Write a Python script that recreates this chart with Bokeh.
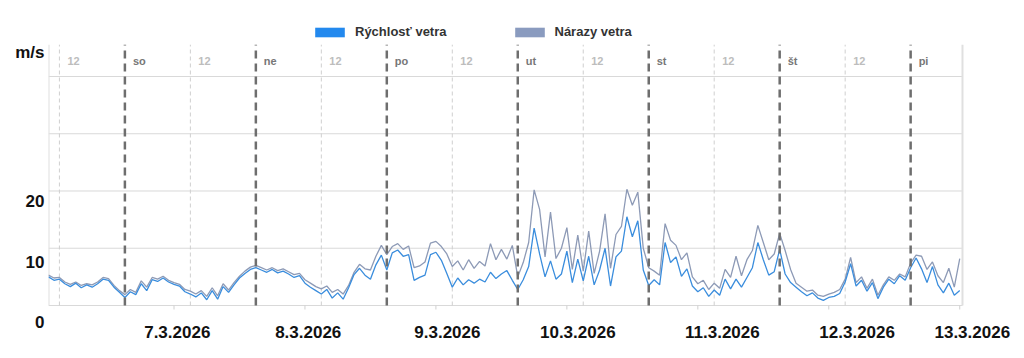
from bokeh.plotting import figure
from bokeh.models import (Range1d, FixedTicker, Legend, LegendItem)
from bokeh.core.properties import value
from bokeh.embed import file_html
from bokeh.resources import INLINE

# ---------------- data ----------------
# hours since 6.3.2026 10:00
hours = list(range(168))
speed = [5.0, 4.4, 4.6, 3.8, 3.3, 3.9, 3.1, 3.6, 3.2, 3.8, 4.6, 4.4, 3.2, 2.3,
         1.4, 2.4, 1.9, 3.8, 2.6, 4.5, 4.2, 4.8, 4.1, 3.7, 3.4, 2.4, 2.0, 1.5,
         2.2, 1.0, 2.6, 1.1, 3.3, 2.3, 3.6, 4.8, 5.6, 6.3, 6.6, 6.2, 5.8, 6.3,
         5.7, 6.0, 5.5, 4.9, 5.2, 3.9, 3.2, 2.6, 2.0, 2.8, 1.3, 2.2, 1.1, 3.1,
         5.4, 6.5, 5.3, 4.6, 7.1, 8.8, 6.2, 9.2, 9.7, 8.6, 8.9, 4.4, 4.9, 5.3,
         8.9, 9.3, 7.9, 5.6, 3.2, 4.8, 3.6, 4.5, 3.9, 4.6, 4.1, 5.8, 4.7, 5.5,
         6.1, 4.4, 2.8, 4.5, 6.8, 13.5, 9.0, 5.0, 7.8, 4.6, 5.5, 9.5, 4.0, 8.1,
         4.3, 8.6, 3.6, 6.2, 10.0, 3.4, 8.5, 9.5, 15.5, 12.0, 14.8, 6.2, 3.5, 4.5,
         3.6, 11.0, 7.5, 8.5, 5.1, 6.4, 3.4, 2.4, 3.1, 1.6, 2.7, 1.8, 4.6, 2.9,
         4.6, 3.2, 4.9, 6.6, 11.0, 8.0, 5.3, 5.9, 9.8, 5.5, 4.0, 3.2, 2.4, 1.7,
         2.2, 1.3, 0.9, 1.4, 1.6, 2.1, 4.1, 7.3, 3.4, 4.4, 2.5, 4.0, 1.2, 3.2,
         4.6, 3.8, 5.2, 4.4, 6.6, 8.3, 6.4, 4.0, 6.8, 3.6, 2.2, 3.9, 1.8, 2.6]
gust = [5.3, 4.8, 4.9, 4.1, 3.7, 4.1, 3.5, 3.8, 3.6, 4.1, 4.9, 4.7, 3.5, 2.6,
        1.9, 2.8, 2.3, 4.3, 3.2, 4.9, 4.6, 5.1, 4.4, 4.0, 3.7, 2.8, 2.5, 2.0,
        2.6, 1.6, 3.1, 1.7, 3.8, 2.7, 4.0, 5.1, 6.0, 6.7, 7.0, 6.6, 6.2, 6.6,
        6.1, 6.4, 5.9, 5.4, 5.6, 4.5, 3.9, 3.3, 2.9, 3.4, 2.3, 2.8, 2.0, 3.5,
        5.8, 7.2, 6.4, 6.2, 8.6, 10.5, 8.9, 10.3, 10.8, 9.8, 10.4, 6.6, 6.9, 7.6,
        10.9, 11.2, 10.3, 9.0, 6.8, 7.8, 6.2, 8.0, 6.5, 7.7, 6.9, 10.8, 8.0, 9.8,
        8.1, 10.5, 5.0, 7.5, 11.0, 20.2, 16.8, 8.5, 16.3, 8.2, 10.0, 13.6, 6.3, 12.3,
        6.0, 13.0, 5.6, 9.5, 16.0, 6.5, 12.4, 13.8, 20.3, 17.5, 19.8, 10.0, 6.6, 6.0,
        5.3, 14.3, 11.4, 10.5, 8.0, 9.2, 5.0, 3.8, 4.4, 2.8, 3.9, 3.0, 6.3, 4.9,
        8.6, 5.2, 8.0, 9.6, 14.0, 11.0, 8.0, 9.0, 12.6, 9.6, 6.3, 3.9, 3.2, 2.5,
        2.7, 1.8, 1.6, 2.0, 2.3, 2.8, 4.6, 8.4, 4.0, 5.0, 3.0, 4.6, 1.8, 3.6,
        5.0, 4.4, 5.5, 5.0, 7.4, 8.8, 8.6, 6.3, 7.6, 5.2, 4.0, 6.5, 3.2, 8.2]

day_names = ["so", "ne", "po", "ut", "st", "št", "pi"]
day_start_hours = [14, 38, 62, 86, 110, 134, 158]
noon_hours = [2, 26, 50, 74, 98, 122, 146]
noon_labels = ["12"] * 7
date_tick_hours = [23, 47, 71, 95, 119, 143, 167]          # small tick marks
date_label_hours = [23.6, 47.6, 73.1, 97.0, 123.5, 148.2, 169.3]  # where labels sit
date_labels = ["7.3.2026", "8.3.2026", "9.3.2026", "10.3.2026",
               "11.3.2026", "12.3.2026", "13.3.2026"]
y_tick_values = [0, 10, 20]
y_tick_labels = ["0", "10", "20"]
y_unit_label = "m/s"
y_grid_values = [0, 10, 20, 30, 40]
series_names = ["Rýchlosť vetra", "Nárazy vetra"]

# ---------------- style ----------------
FONT = "Liberation Sans"
SPEED_LINE = "#3a8ddd"
GUST_LINE = "#8d9ab6"
SPEED_BOX = "#2389ee"
GUST_BOX = "#8a9bbf"
X_DATA_END = 167.5                     # right edge of the chart area
X_END = 170.07                         # frame extends a bit for the last label
Y_START, Y_END = -2.97, 49.78          # data range of the frame
Y_TOP = 45.55                          # top of the chart area (lines end here)
LAB_END = 49.92                        # range used by the offset y labels
UNIT_POS = 44.63
TICK_LEN = 0.7
n_grid = len(y_grid_values)

p = figure(width=1024, height=358, output_backend="svg", toolbar_location=None,
           x_range=Range1d(0, X_END), y_range=Range1d(Y_START, Y_END),
           min_border_left=48, min_border_right=48, min_border_top=20,
           min_border_bottom=36)
p.title.visible = False
p.outline_line_color = None
p.background_fill_color = "white"
p.border_fill_color = "white"
p.extra_y_ranges = {"ylab": Range1d(0, LAB_END)}
p.xgrid.visible = False
p.ygrid.visible = False

# left axis: labels only (sitting slightly below the grid lines as in original)
ya = p.yaxis[0]
ya.y_range_name = "ylab"
ya.ticker = FixedTicker(ticks=y_tick_values + [UNIT_POS])
overrides = {v: t for v, t in zip(y_tick_values, y_tick_labels)}
overrides[UNIT_POS] = y_unit_label
ya.major_label_overrides = overrides
ya.axis_line_color = None
ya.major_tick_line_color = None
ya.minor_tick_line_color = None
ya.major_tick_in = 0
ya.major_tick_out = 0
ya.major_label_standoff = 4
ya.major_label_text_font = FONT
ya.major_label_text_font_style = "bold"
ya.major_label_text_font_size = "17px"
ya.major_label_text_color = "#111111"

# x axis with date labels
xa = p.xaxis[0]
xa.ticker = FixedTicker(ticks=date_label_hours)
xa.major_label_overrides = {h: lab for h, lab in zip(date_label_hours, date_labels)}
xa.axis_line_color = None
xa.major_tick_line_color = None
xa.minor_tick_line_color = None
xa.major_tick_in = 0
xa.major_tick_out = 0
xa.major_label_standoff = 3
xa.major_label_text_font = FONT
xa.major_label_text_font_style = "bold"
xa.major_label_text_font_size = "17px"
xa.major_label_text_color = "#111111"

# horizontal grid lines, left / right edges, small date ticks
p.segment(x0=[0] * n_grid, y0=y_grid_values, x1=[X_DATA_END] * n_grid, y1=y_grid_values,
          line_color="#d9d9d9", line_width=1)
p.segment(x0=[0, X_DATA_END], y0=[0, 0], x1=[0, X_DATA_END], y1=[Y_TOP, Y_TOP],
          line_color="#e0e0e0", line_width=2)
p.segment(x0=date_tick_hours, y0=[0] * 7, x1=date_tick_hours, y1=[-TICK_LEN] * 7,
          line_color="#d0d0d0", line_width=1)

# noon lines
p.segment(x0=noon_hours, y0=[0] * 7, x1=noon_hours, y1=[Y_TOP] * 7,
          line_color="#cfcfcf", line_width=1, line_dash="4 3")

# series (zero-height areas only provide the legend swatches)
ra = p.varea(x=hours, y1=gust, y2=gust, fill_color=GUST_BOX)
rb = p.varea(x=hours, y1=speed, y2=speed, fill_color=SPEED_BOX)
p.line(hours, gust, line_color=GUST_LINE, line_width=1.3)
p.line(hours, speed, line_color=SPEED_LINE, line_width=1.3)

# day lines
p.segment(x0=day_start_hours, y0=[0] * 7, x1=day_start_hours, y1=[Y_TOP] * 7,
          line_color="#6e6e6e", line_width=2.5, line_dash="8 5")

# top labels (day names / 12)
p.text(x=noon_hours, y=[Y_TOP] * len(noon_hours), text=noon_labels,
       x_offset=8, y_offset=16, text_baseline="middle", text_align="left",
       text_font=value(FONT), text_font_style="bold", text_font_size="11px",
       text_color="#bdbdbd")
p.text(x=day_start_hours, y=[Y_TOP] * len(day_start_hours), text=day_names,
       x_offset=8, y_offset=16, text_baseline="middle", text_align="left",
       text_font=value(FONT), text_font_style="bold", text_font_size="11px",
       text_color="#777777")

# legend
legend = Legend(items=[LegendItem(label=series_names[0], renderers=[rb]),
                       LegendItem(label=series_names[1], renderers=[ra])],
                orientation="horizontal", location=(263, 283),
                glyph_width=37, glyph_height=12, label_standoff=7, spacing=64,
                padding=0, margin=0, border_line_color=None,
                background_fill_alpha=0, label_text_font=FONT,
                label_text_font_style="bold", label_text_font_size="13px",
                label_text_color="#333333", label_height=14)
p.add_layout(legend, "center")

open("out.html", "w").write(file_html(p, INLINE))
